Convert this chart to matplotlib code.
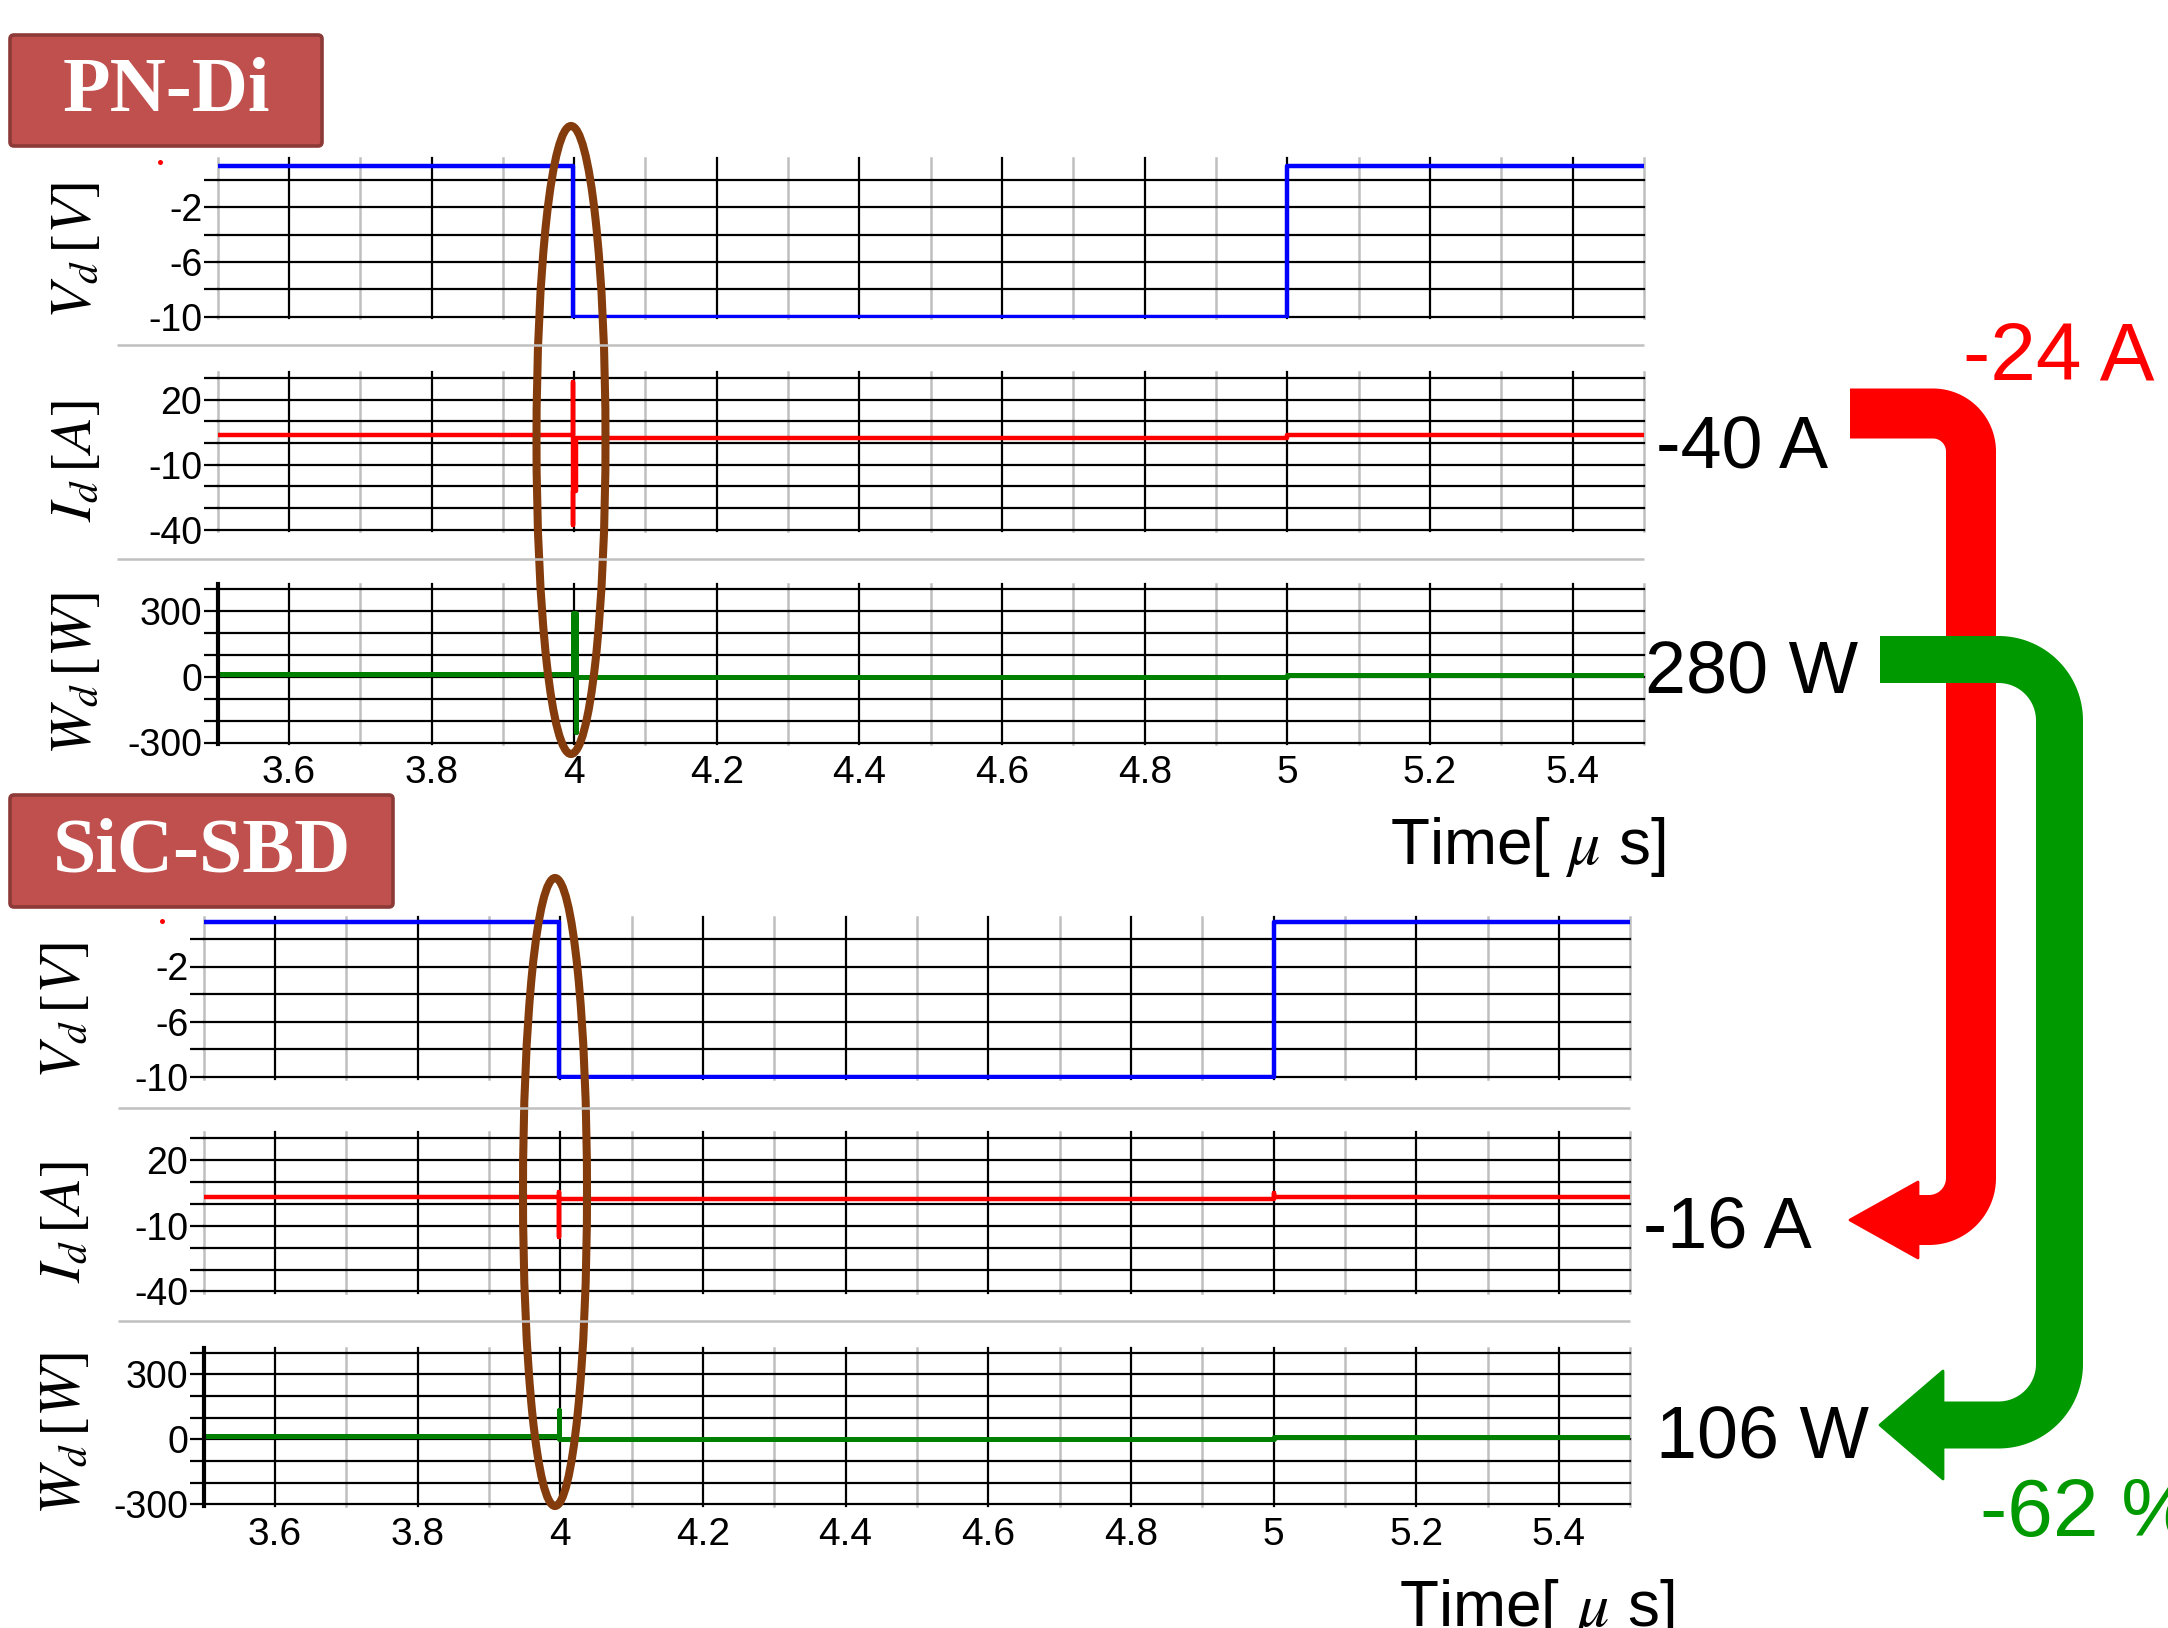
import numpy as np
import matplotlib
matplotlib.use('Agg')
import matplotlib.pyplot as plt
from matplotlib.patches import Ellipse, FancyBboxPatch, Polygon

W, H, DPI = 2168, 1628, 200
plt.rcParams['font.family'] = ['Liberation Sans', 'DejaVu Sans']
plt.rcParams['mathtext.fontset'] = 'stix'

# ---------------- data ----------------
time_ticks = [3.6, 3.8, 4.0, 4.2, 4.4, 4.6, 4.8, 5.0, 5.2, 5.4]
time_tick_labels = ['3.6', '3.8', '4', '4.2', '4.4', '4.6', '4.8', '5', '5.2', '5.4']
time_minor = [3.5, 3.7, 3.9, 4.1, 4.3, 4.5, 4.7, 4.9, 5.1, 5.3, 5.5]

vd_ticks = [-2, -6, -10]
vd_minor = [0, -4, -8]
vd_labels = ['-2', '-6', '-10']
id_ticks = [20, -10, -40]
id_minor = [30, 10, 0, -20, -30]
id_labels = ['20', '-10', '-40']
wd_ticks = [300, 0, -300]
wd_minor = [400, 200, 100, -100, -200]
wd_labels = ['300', '0', '-300']

# PN-Di waveforms (time in us)
pn_t_v = [3.5, 3.998, 3.998, 5.0, 5.0, 5.5]
pn_vd = [1.0, 1.0, -10.0, -10.0, 1.0, 1.0]
pn_t_i = [3.5, 3.998, 3.998, 3.998, 3.998, 4.003, 4.003, 5.0, 5.0, 5.5]
pn_id = [3.5, 3.5, 28, -38, -22, -22, 2.3, 2.3, 3.5, 3.5]
pn_t_w = [3.5, 3.998, 3.998, 4.002, 4.002, 4.002, 5.0, 5.0, 5.5]
pn_wd = [15, 15, 290, 290, -250, 1, 1, 10, 10]

# SiC-SBD waveforms
sic_t_v = [3.5, 3.998, 3.998, 5.0, 5.0, 5.5]
sic_vd = [1.25, 1.25, -10.0, -10.0, 1.25, 1.25]
sic_t_i = [3.5, 3.998, 3.998, 3.998, 3.998, 5.0, 5.0, 5.0, 5.5]
sic_id = [3.3, 3.3, 5.5, -15, 2.1, 2.1, 5.0, 3.3, 3.3]
sic_t_w = [3.5, 3.998, 3.998, 3.998, 5.0, 5.0, 5.5]
sic_wd = [18, 18, 135, 3, 3, 10, 10]

annot_texts = ['-40 A', '280 W', '-24 A', '-16 A', '106 W', '-62 %']

# ---------------- figure ----------------
fig = plt.figure(figsize=(W / DPI, H / DPI), dpi=DPI)


def px2pt(p):
    return p * 72.0 / DPI


def add_panel_axes(x0, x1, ref, ylim):
    (v1, p1), (v2, p2) = ref
    s = (p2 - p1) / (v1 - v2)
    top = p1 - (ylim[1] - v1) * s
    bot = p1 + (v1 - ylim[0]) * s
    ax = fig.add_axes([x0 / W, 1 - bot / H, (x1 - x0) / W, (bot - top) / H])
    ax.set_xlim(3.5, 5.5)
    ax.set_ylim(*ylim)
    return ax


def style(ax, major, minor, labels, show_x, spine_left):
    ax.set_yticks(major)
    ax.set_yticks(minor, minor=True)
    ax.set_yticklabels(labels)
    ax.set_xticks(time_ticks)
    ax.set_xticks(time_minor, minor=True)
    if show_x:
        ax.set_xticklabels(time_tick_labels)
    else:
        ax.set_xticklabels([])
    ax.tick_params(axis='y', which='both', direction='out', length=5,
                   width=0.8, color='k', pad=0.5, labelsize=13.5)
    ax.tick_params(axis='x', which='both', length=0, pad=4.0, labelsize=14)
    ax.grid(True, axis='y', which='both', color='k', lw=0.8)
    ax.grid(True, axis='x', which='major', color='k', lw=0.8)
    ax.grid(True, axis='x', which='minor', color='#BFBFBF', lw=0.9)
    for sp in ax.spines.values():
        sp.set_visible(False)
    if spine_left:
        ax.spines['left'].set_visible(True)
        ax.spines['left'].set_color('k')
        ax.spines['left'].set_linewidth(1.5)
    ax.set_axisbelow(True)
    ax.patch.set_alpha(0)
    for t in ax.xaxis.get_major_ticks() + ax.xaxis.get_minor_ticks() + \
            ax.yaxis.get_major_ticks() + ax.yaxis.get_minor_ticks():
        t.gridline.set_clip_on(False)


LW = 1.6
BLUE, RED, GREEN = '#0000FF', '#FF0000', '#008000'

panels = [
    dict(x0=217.6, x1=1643.9,
         vref=((-2, 207.4), (-10, 316.6)), iref=((20, 399.6), (-40, 529.6)),
         wref=((300, 611.2), (-300, 742.5)),
         v=(pn_t_v, pn_vd), i=(pn_t_i, pn_id), w=(pn_t_w, pn_wd)),
    dict(x0=203.6, x1=1630.2,
         vref=((-2, 966.5), (-10, 1077.1)), iref=((20, 1160.0), (-40, 1291.4)),
         wref=((300, 1374.4), (-300, 1504.4)),
         v=(sic_t_v, sic_vd), i=(sic_t_i, sic_id), w=(sic_t_w, sic_wd)),
]

for p in panels:
    axv = add_panel_axes(p['x0'], p['x1'], p['vref'], (-10.12, 1.6))
    style(axv, vd_ticks, vd_minor, vd_labels, False, False)
    axv.plot(*p['v'], color=BLUE, lw=LW, solid_joinstyle='round')
    axi = add_panel_axes(p['x0'], p['x1'], p['iref'], (-40.6, 32.8))
    style(axi, id_ticks, id_minor, id_labels, False, False)
    axi.plot(*p['i'], color=RED, lw=LW, solid_joinstyle='round')
    axw = add_panel_axes(p['x0'], p['x1'], p['wref'], (-306, 423))
    style(axw, wd_ticks, wd_minor, wd_labels, True, True)
    axw.plot(*p['w'], color=GREEN, lw=LW + 0.2, solid_joinstyle='round')

# ---------------- overlay ----------------
ov = fig.add_axes([0, 0, 1, 1], zorder=10)
ov.set_xlim(0, W)
ov.set_ylim(H, 0)
ov.axis('off')
ov.patch.set_alpha(0)

# separators
for (x0, x1, y) in [(117, 1644, 344.5), (117, 1644, 558.5),
                    (118, 1630, 1107.5), (118, 1630, 1320.5)]:
    ov.plot([x0, x1], [y, y], color='#C0C0C0', lw=0.9, solid_capstyle='butt')

# title boxes
for (x0, y0, x1, y1, label) in [(10, 35, 322, 146, 'PN-Di'), (10, 795, 393, 907, 'SiC-SBD')]:
    ov.add_patch(FancyBboxPatch((x0, y0), x1 - x0, y1 - y0,
                                boxstyle='round,pad=0,rounding_size=4',
                                fc='#C0504D', ec='#8C3A38', lw=1.3))
    ov.text((x0 + x1) / 2, (y0 + y1) / 2 + 2, label, color='white', fontsize=28,
            fontweight='bold', family=['Liberation Serif', 'DejaVu Serif'],
            ha='center', va='center')

# tiny red dots
ov.plot([160, 162], [162, 921], 'o', color='red', ms=1.8, mec='none')

# y labels
ylabels = [r'$V_d\,[V]$', r'$I_d\,[A]$', r'$W_d\,[W]$']
for xc, ys in [(76, [250, 461, 673]), (65, [1010, 1222, 1433])]:
    for lab, yc in zip(ylabels, ys):
        ov.text(xc, yc, lab, rotation=90, fontsize=21, ha='center', va='center')

# Time labels
for (x, yb) in [(1390, 864), (1399, 1626)]:
    ov.text(x, yb, r'Time[ $\mu$ s]', fontsize=23, ha='left', va='baseline')

# ellipses
ov.add_patch(Ellipse((571, 440), 69, 628, fill=False, ec='#843C0C', lw=2.9))
ov.add_patch(Ellipse((555, 1192), 64, 628, fill=False, ec='#843C0C', lw=2.9))


def bent_arrow(x_start, y_top, x_vert, y_bot, r_top, r_bot, x_head_base,
               x_tip, head_half, width, color):
    th = np.linspace(0, np.pi / 2, 40)
    c1x, c1y = x_vert - r_top, y_top + r_top
    a1x = c1x + r_top * np.sin(th)
    a1y = c1y - r_top * np.cos(th)
    c2x, c2y = x_vert - r_bot, y_bot - r_bot
    a2x = c2x + r_bot * np.cos(th)
    a2y = c2y + r_bot * np.sin(th)
    xs = np.concatenate([[x_start], a1x, a2x, [x_head_base - 3]])
    ys = np.concatenate([[y_top], a1y, a2y, [y_bot]])
    ov.plot(xs, ys, color=color, lw=px2pt(width), solid_capstyle='butt',
            solid_joinstyle='round')
    ov.add_patch(Polygon([[x_tip, y_bot], [x_head_base, y_bot - head_half],
                          [x_head_base, y_bot + head_half]], closed=True,
                         fc=color, ec=color, lw=1.0, joinstyle='round'))


bent_arrow(1850, 413.5, 1971, 1220, 38, 42, 1918, 1850, 38, 50, '#FF0000')
bent_arrow(1880, 659.5, 2059.5, 1425, 61, 61, 1943, 1880, 54, 47, '#009900')


def label(x, yc, s, size, color):
    em = size * DPI / 72.0
    ov.text(x, yc + 0.358 * em, s, fontsize=size, color=color,
            ha='left', va='baseline')


label(1656, 442.5, annot_texts[0], 26.5, 'black')
label(1645, 666.5, annot_texts[1], 26.5, 'black')
label(1963, 350, annot_texts[2], 29.5, '#FF0000')
label(1643, 1222, annot_texts[3], 26.0, 'black')
label(1656, 1432, annot_texts[4], 26.5, 'black')
label(1980, 1507, annot_texts[5], 29.5, '#009900')

fig.savefig('out.png', dpi=DPI)
